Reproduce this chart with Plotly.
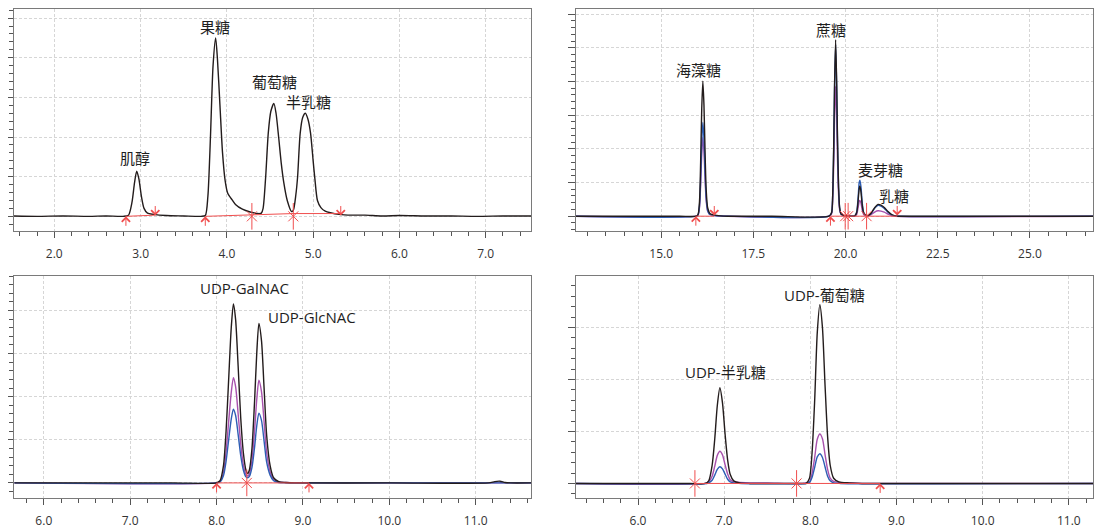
import plotly.graph_objects as go

# ---- data (time in min, signal in grid units) ----

# panel 1: monosaccharides, single trace
p1_black = [(1.53, 0.01), (1.8, 0.0), (2.1, 0.01), (2.4, 0.0), (2.6, 0.01), (2.8, 0.0),
            (2.86, 0.03), (2.90, 0.35), (2.93, 0.85), (2.955, 1.14), (2.98, 0.95), (3.01, 0.5),
            (3.04, 0.2), (3.08, 0.08), (3.15, 0.05), (3.3, 0.02), (3.5, 0.01), (3.7, 0.0),
            (3.75, 0.02), (3.78, 0.5), (3.81, 2.0), (3.84, 3.8), (3.87, 4.5), (3.89, 4.0),
            (3.92, 2.8), (3.95, 1.6), (3.98, 0.9), (4.01, 0.58), (4.05, 0.45), (4.10, 0.3),
            (4.18, 0.18), (4.27, 0.11), (4.36, 0.07), (4.40, 0.08), (4.42, 0.2), (4.45, 1.0),
            (4.48, 2.1), (4.51, 2.65), (4.545, 2.85), (4.57, 2.6), (4.60, 2.0), (4.63, 1.35),
            (4.66, 0.85), (4.70, 0.4), (4.75, 0.12), (4.77, 0.15), (4.80, 0.55), (4.82, 1.0),
            (4.85, 2.1), (4.88, 2.5), (4.91, 2.6), (4.94, 2.45), (4.97, 2.1), (5.00, 1.4),
            (5.02, 0.95), (5.05, 0.4), (5.09, 0.22), (5.14, 0.13), (5.20, 0.09), (5.30, 0.05),
            (5.45, 0.03), (5.6, 0.03), (5.8, 0.01), (6.0, 0.02), (6.3, 0.01), (6.6, 0.01),
            (6.9, 0.0), (7.2, 0.01), (7.53, 0.01)]
p1_base = [(2.83, 0.0), (3.17, 0.03), None, (3.75, 0.0), (4.29, 0.04), (4.77, 0.07), (5.32, 0.07)]
p1_up = [2.83, 3.75]
p1_down = [3.17, 5.32]
p1_star = [4.29, 4.77]
p1_labels = [("肌醇", 2.93, 1.46), ("果糖", 3.86, 4.78), ("葡萄糖", 4.55, 3.4), ("半乳糖", 4.95, 2.89)]

# panel 2: disaccharides, three traces
p2_black = [(12.69, 0.0), (14.0, 0.0), (15.5, 0.0), (15.95, 0.0), (16.0, 0.05), (16.04, 0.45),
            (16.07, 1.6), (16.10, 3.2), (16.13, 4.01), (16.16, 3.3), (16.19, 1.9), (16.22, 0.8),
            (16.26, 0.25), (16.32, 0.08), (16.45, 0.03), (16.6, 0.01), (16.8, 0.0), (18.0, 0.0),
            (19.55, 0.0), (19.62, 0.1), (19.65, 0.6), (19.68, 2.2), (19.70, 3.8), (19.73, 5.24),
            (19.76, 3.9), (19.78, 2.4), (19.81, 0.9), (19.84, 0.25), (19.88, 0.06), (19.95, 0.02),
            (20.05, 0.01), (20.25, 0.01), (20.30, 0.1), (20.34, 0.45), (20.37, 0.82), (20.39, 0.9),
            (20.42, 0.7), (20.45, 0.35), (20.49, 0.1), (20.55, 0.03), (20.62, 0.02), (20.7, 0.1),
            (20.8, 0.27), (20.88, 0.35), (20.96, 0.33), (21.05, 0.26), (21.15, 0.14), (21.25, 0.05),
            (21.35, 0.01), (21.45, 0.0), (23.0, 0.0), (26.71, 0.0)]
p2_blue = [(12.69, 0.0), (15.95, 0.0), (16.0, 0.04), (16.04, 0.32), (16.07, 1.1), (16.10, 2.2),
           (16.13, 2.78), (16.16, 2.3), (16.19, 1.3), (16.22, 0.55), (16.26, 0.17), (16.32, 0.05),
           (16.45, 0.02), (16.6, 0.01), (16.8, 0.0), (19.55, 0.0), (19.62, 0.1), (19.65, 0.58),
           (19.68, 2.1), (19.70, 3.7), (19.73, 5.1), (19.76, 3.8), (19.78, 2.3), (19.81, 0.85),
           (19.84, 0.24), (19.88, 0.06), (20.0, 0.01), (20.25, 0.01), (20.30, 0.12), (20.34, 0.55),
           (20.37, 1.0), (20.39, 1.07), (20.42, 0.85), (20.45, 0.42), (20.49, 0.12), (20.55, 0.03),
           (20.62, 0.02), (20.7, 0.09), (20.8, 0.25), (20.88, 0.32), (20.96, 0.3), (21.05, 0.23),
           (21.15, 0.12), (21.25, 0.04), (21.35, 0.01), (21.45, 0.0), (26.71, 0.0)]
p2_purple = [(12.69, 0.0), (15.95, 0.0), (16.0, 0.03), (16.04, 0.27), (16.07, 0.93), (16.10, 1.85),
             (16.13, 2.34), (16.16, 1.93), (16.19, 1.1), (16.22, 0.47), (16.26, 0.15), (16.32, 0.05),
             (16.45, 0.02), (16.8, 0.0), (19.55, 0.0), (19.62, 0.07), (19.65, 0.45), (19.68, 1.6),
             (19.70, 2.8), (19.73, 3.86), (19.76, 2.9), (19.78, 1.75), (19.81, 0.66), (19.84, 0.18),
             (19.88, 0.05), (20.0, 0.01), (20.25, 0.01), (20.30, 0.05), (20.34, 0.25), (20.37, 0.44),
             (20.39, 0.47), (20.42, 0.38), (20.45, 0.19), (20.49, 0.05), (20.55, 0.02), (20.62, 0.01),
             (20.7, 0.05), (20.8, 0.13), (20.88, 0.16), (20.96, 0.15), (21.05, 0.12), (21.15, 0.06),
             (21.25, 0.02), (21.35, 0.0), (26.71, 0.0)]
p2_base = [(15.94, 0.0), (16.44, 0.0), None, (19.59, 0.0), (21.40, 0.0)]
p2_up = [15.94, 19.59]
p2_down = [16.44, 21.40]
p2_star = [19.99, 20.07, 20.57]
p2_labels = [("海藻糖", 16.0, 4.33), ("蔗糖", 19.6, 5.54), ("麦芽糖", 20.96, 1.38), ("乳糖", 21.3, 0.59)]

# panel 3: UDP-GalNAc / UDP-GlcNAc
p3_black = [(5.66, 0.0), (6.5, 0.0), (7.5, 0.0), (8.0, 0.0), (8.04, 0.05), (8.08, 0.4), (8.11, 1.2),
            (8.14, 2.4), (8.17, 3.6), (8.195, 4.15), (8.22, 3.8), (8.25, 2.7), (8.28, 1.5),
            (8.31, 0.7), (8.34, 0.3), (8.36, 0.22), (8.38, 0.3), (8.41, 0.8), (8.44, 1.9),
            (8.465, 3.0), (8.49, 3.7), (8.52, 3.3), (8.55, 2.2), (8.58, 1.1), (8.62, 0.4),
            (8.66, 0.12), (8.72, 0.03), (8.8, 0.01), (8.9, 0.0), (10.0, 0.0), (11.15, 0.0),
            (11.22, 0.03), (11.28, 0.04), (11.34, 0.01), (11.4, 0.0), (11.64, 0.0)]
p3_purple = [(5.66, 0.0), (8.0, 0.0), (8.04, 0.03), (8.08, 0.24), (8.11, 0.72), (8.14, 1.42),
             (8.17, 2.1), (8.195, 2.44), (8.22, 2.24), (8.25, 1.6), (8.28, 0.9), (8.31, 0.42),
             (8.34, 0.2), (8.36, 0.16), (8.38, 0.21), (8.41, 0.52), (8.44, 1.22), (8.465, 1.93),
             (8.49, 2.38), (8.52, 2.12), (8.55, 1.42), (8.58, 0.7), (8.62, 0.26), (8.66, 0.08),
             (8.72, 0.02), (8.8, 0.01), (8.9, 0.0), (11.64, 0.0)]
p3_blue = [(5.66, 0.0), (8.0, 0.0), (8.04, 0.02), (8.08, 0.17), (8.11, 0.5), (8.14, 1.0),
           (8.17, 1.48), (8.195, 1.71), (8.22, 1.57), (8.25, 1.12), (8.28, 0.63), (8.31, 0.3),
           (8.34, 0.14), (8.36, 0.12), (8.38, 0.15), (8.41, 0.36), (8.44, 0.83), (8.465, 1.32),
           (8.49, 1.62), (8.52, 1.45), (8.55, 0.97), (8.58, 0.48), (8.62, 0.18), (8.66, 0.05),
           (8.72, 0.01), (8.8, 0.0), (11.64, 0.0)]
p3_base = [(8.0, 0.0), (9.07, 0.0)]
p3_up = [8.0, 9.07]
p3_down = []
p3_star = [8.35]
p3_labels = [("UDP-GalNAC", 8.32, 4.52), ("UDP-GlcNAC", 9.1, 3.85)]

# panel 4: UDP-galactose / UDP-glucose
p4_black = [(5.28, 0.0), (6.0, 0.0), (6.6, 0.0), (6.78, 0.0), (6.82, 0.05), (6.86, 0.35),
            (6.89, 0.85), (6.92, 1.5), (6.95, 1.84), (6.98, 1.55), (7.01, 0.95), (7.04, 0.45),
            (7.07, 0.17), (7.11, 0.05), (7.18, 0.01), (7.3, 0.0), (7.9, 0.0), (7.95, 0.0),
            (7.99, 0.1), (8.02, 0.6), (8.05, 1.6), (8.08, 2.9), (8.11, 3.44), (8.14, 3.0),
            (8.17, 1.9), (8.20, 0.9), (8.23, 0.35), (8.27, 0.1), (8.33, 0.03), (8.45, 0.01),
            (8.6, 0.0), (10.0, 0.0), (11.28, 0.0)]
p4_purple = [(5.28, 0.0), (6.78, 0.0), (6.82, 0.03), (6.86, 0.14), (6.89, 0.33), (6.92, 0.54),
             (6.95, 0.62), (6.98, 0.55), (7.01, 0.36), (7.04, 0.18), (7.07, 0.07), (7.11, 0.03),
             (7.18, 0.02), (7.3, 0.01), (7.5, 0.01), (7.9, 0.0), (7.99, 0.03), (8.02, 0.2),
             (8.05, 0.5), (8.08, 0.85), (8.11, 0.95), (8.14, 0.86), (8.17, 0.56), (8.20, 0.27),
             (8.23, 0.1), (8.27, 0.04), (8.33, 0.02), (8.45, 0.01), (8.6, 0.0), (11.28, 0.0)]
p4_blue = [(5.28, 0.0), (6.8, 0.0), (6.82, 0.01), (6.86, 0.06), (6.89, 0.16), (6.92, 0.27),
           (6.95, 0.32), (6.98, 0.28), (7.01, 0.18), (7.04, 0.08), (7.07, 0.03), (7.11, 0.01),
           (7.2, 0.0), (7.95, 0.0), (7.99, 0.02), (8.02, 0.12), (8.05, 0.31), (8.08, 0.51),
           (8.11, 0.57), (8.14, 0.5), (8.17, 0.32), (8.20, 0.14), (8.23, 0.05), (8.27, 0.01),
           (8.35, 0.0), (11.28, 0.0)]
p4_base = [(6.66, 0.0), (8.81, 0.0)]
p4_up = [8.81]
p4_down = []
p4_star = [6.66, 7.84]
p4_labels = [("UDP-半乳糖", 7.01, 2.15), ("UDP-葡萄糖", 8.16, 3.63)]

# axis setup per panel: x range, y range, x label step, x minor step
panels = [
    dict(xr=[1.533, 7.525], yr=[-0.37, 5.23], dx=1.0, mx=0.2, fmt=".1f"),
    dict(xr=[12.69, 26.71], yr=[-0.44, 6.15], dx=2.5, mx=0.5, fmt=".1f"),
    dict(xr=[5.655, 11.64], yr=[-0.35, 4.80], dx=1.0, mx=0.2, fmt=".1f"),
    dict(xr=[5.28, 11.28], yr=[-0.28, 3.99], dx=1.0, mx=0.2, fmt=".1f"),
]
# page body keeps its 8px margin, so the figure is 8px smaller and everything shifts by 8px
W, H = 1099, 521
x_domains = [[6 / W, 523 / W], [568 / W, 1085 / W], [6 / W, 523 / W], [568 / W, 1085 / W]]
y_domains = [[1 - 223 / H, 1 - 1 / H], [1 - 223 / H, 1 - 1 / H],
             [1 - 490 / H, 1 - 268 / H], [1 - 490 / H, 1 - 268 / H]]

BLACK = "#231c1c"
PURPLE = "#a851ad"
BLUE = "#2d5db4"
RED = "#f04e4e"
FONT = "Open Sans, Noto Sans CJK SC"

fig = go.Figure()


def unzip(pts):
    xs, ys = [], []
    for p in pts:
        if p is None:
            xs.append(None)
            ys.append(None)
        else:
            xs.append(p[0])
            ys.append(p[1])
    return xs, ys


def add_line(pts, color, n, width=1.4, spline=True):
    xs, ys = unzip(pts)
    fig.add_trace(go.Scatter(
        x=xs, y=ys, mode="lines", xaxis="x" + str(n), yaxis="y" + str(n),
        line=dict(color=color, width=width, shape="spline" if spline else "linear", smoothing=0.7),
        showlegend=False, hoverinfo="skip"))


data = [
    ([p1_black], p1_base, p1_up, p1_down, p1_star, p1_labels),
    ([p2_purple, p2_blue, p2_black], p2_base, p2_up, p2_down, p2_star, p2_labels),
    ([p3_purple, p3_blue, p3_black], p3_base, p3_up, p3_down, p3_star, p3_labels),
    ([p4_purple, p4_blue, p4_black], p4_base, p4_up, p4_down, p4_star, p4_labels),
]
annotations = []

for i, (series, base, ups, downs, stars, labels) in enumerate(data):
    n = i + 1
    colors = [BLACK] if len(series) == 1 else [PURPLE, BLUE, BLACK]
    for pts, c in zip(series, colors):
        add_line(pts, c, n)
    add_line(base, RED, n, width=1.0, spline=False)

    # integration marks: vertical bar + X
    if stars:
        for sym, sz in (("line-ns-open", 19), ("x-thin-open", 10)):
            fig.add_trace(go.Scatter(
                x=stars, y=[0] * len(stars), mode="markers", xaxis="x" + str(n), yaxis="y" + str(n),
                marker=dict(symbol=sym, size=sz, color=RED, line=dict(color=RED, width=1)),
                showlegend=False, hoverinfo="skip"))

    xref, yref = "x" + str(n), "y" + str(n)
    for x in ups:
        annotations.append(dict(x=x, y=0, xref=xref, yref=yref, text="", showarrow=True,
                                ax=0, ay=11, arrowhead=4, arrowsize=1.6, arrowwidth=1,
                                arrowcolor=RED))
    for x in downs:
        annotations.append(dict(x=x, y=0.02, xref=xref, yref=yref, text="", showarrow=True,
                                ax=0, ay=-11, arrowhead=4, arrowsize=1.6, arrowwidth=1,
                                arrowcolor=RED))
    for txt, x, y in labels:
        annotations.append(dict(x=x, y=y, xref=xref, yref=yref, text=txt, showarrow=False,
                                font=dict(size=15, color="#1e1e1e", family=FONT)))

layout = dict(
    width=W, height=H,
    margin=dict(l=0, r=0, t=0, b=0),
    paper_bgcolor="white", plot_bgcolor="white",
    font=dict(family=FONT, size=12, color="#333333"),
    annotations=annotations,
)

for i, p in enumerate(panels):
    n = i + 1
    sfx = "" if n == 1 else str(n)
    layout["xaxis" + sfx] = dict(
        domain=x_domains[i], range=p["xr"], anchor="y" + str(n),
        tick0=0, dtick=p["dx"], tickformat=p["fmt"],
        ticks="outside", ticklen=6, tickcolor="#555555", tickwidth=1,
        ticklabelstandoff=6,
        minor=dict(dtick=p["mx"], ticks="outside", ticklen=4, tickcolor="#555555", showgrid=False),
        showgrid=True, gridcolor="#d6d6d6", griddash="3px,2px", gridwidth=1,
        showline=True, linecolor="#7a7a7a", linewidth=1, mirror=True,
        zeroline=False, tickfont=dict(size=12, color="#333333"),
    )
    layout["yaxis" + sfx] = dict(
        domain=y_domains[i], range=p["yr"], anchor="x" + str(n),
        tick0=0, dtick=1, showticklabels=False,
        ticks="outside", ticklen=7, tickcolor="#555555", tickwidth=1,
        minor=dict(dtick=0.2, ticks="outside", ticklen=4, tickcolor="#555555", showgrid=False),
        showgrid=True, gridcolor="#d6d6d6", griddash="3px,2px", gridwidth=1,
        showline=True, linecolor="#7a7a7a", linewidth=1, mirror=True,
        zeroline=False,
    )

fig.update_layout(layout)
fig.write_html("out.html")
